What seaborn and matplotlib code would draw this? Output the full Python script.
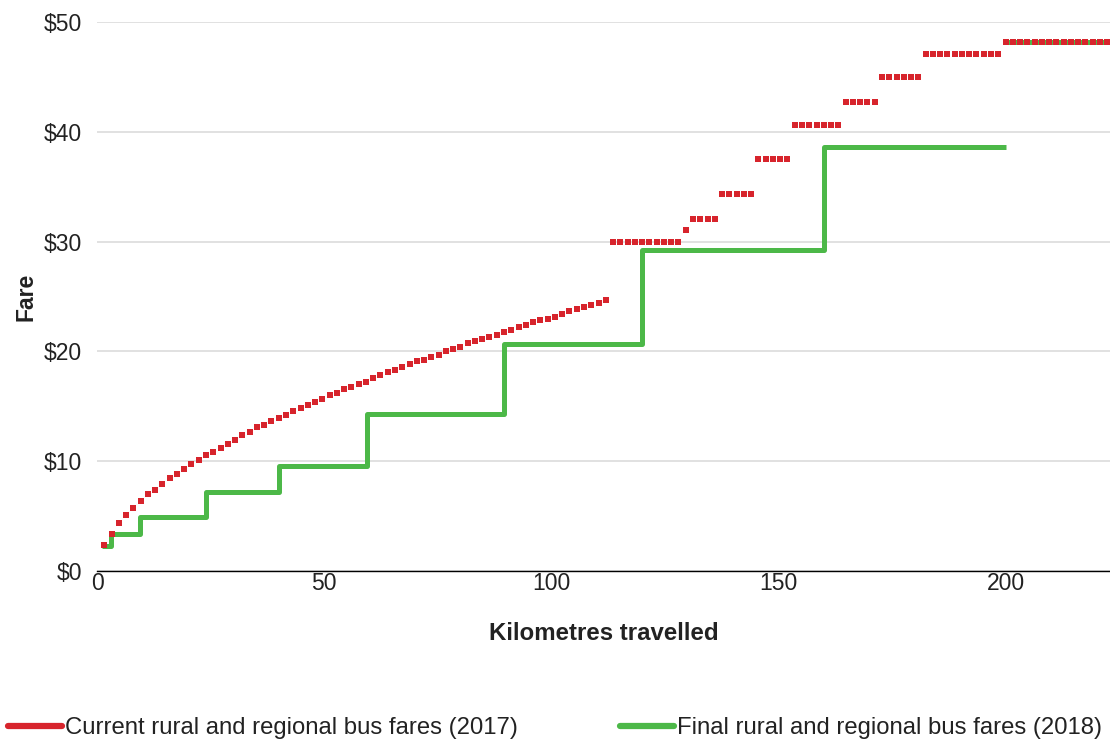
import numpy as np
import pandas as pd
import matplotlib
matplotlib.use("Agg")
import matplotlib.pyplot as plt
from matplotlib.lines import Line2D
from matplotlib import font_manager
import seaborn as sns

# --- data -------------------------------------------------------------
# 2017 fares, one value per 1.6 km (one mile) step, steps 1..139
fares_2017 = [
    2.34, 3.40, 4.37, 5.10, 5.74, 6.35, 7.00, 7.40, 7.95, 8.44,
    8.86, 9.30, 9.72, 10.14, 10.54, 10.88, 11.20, 11.60, 11.93, 12.36,
    12.66, 13.08, 13.30, 13.63, 13.93, 14.24, 14.57, 14.87, 15.09, 15.39,
    15.64, 16.03, 16.18, 16.55, 16.79, 17.06, 17.20, 17.55, 17.82, 18.12,
    18.33, 18.55, 18.88, 19.10, 19.19, 19.49, 19.70, 20.00, 20.20, 20.43,
    20.77, 20.97, 21.10, 21.28, 21.52, 21.80, 21.92, 22.22, 22.43, 22.65,
    22.86, 22.98, 23.16, 23.38, 23.68, 23.89, 24.02, 24.25, 24.45, 24.65,
    30.00, 30.00, 30.00, 30.00, 30.00, 30.00, 30.00, 30.00, 30.00, 30.00,
    31.05,
    32.10, 32.10, 32.10, 32.10,
    34.30, 34.30, 34.30, 34.30, 34.30,
    37.50, 37.50, 37.50, 37.50, 37.50,
    40.60, 40.60, 40.60, 40.60, 40.60, 40.60, 40.60,
    42.75, 42.75, 42.75, 42.75, 42.75,
    44.96, 44.96, 44.96, 44.96, 44.96, 44.96,
    47.06, 47.06, 47.06, 47.06, 47.06, 47.06, 47.06, 47.06, 47.06, 47.06, 47.06,
    48.20, 48.20, 48.20, 48.20, 48.20, 48.20, 48.20, 48.20, 48.20, 48.20,
    48.20, 48.20, 48.20, 48.20, 48.20,
]
KM_PER_STEP = 1.6

# 2018 fares: step boundaries (km) and the fare for each band
steps_2018_km = [1, 3, 9.5, 24, 40, 59.5, 89.5, 120, 160, 200]
fares_2018 = [2.3, 3.4, 4.9, 7.2, 9.6, 14.3, 20.7, 29.2, 38.6]
# flat fare beyond 200 km
long_2018_km = [200, 223]
long_2018_fare = 48.2

y_ticks = [0, 10, 20, 30, 40, 50]
y_tick_labels = ["$0", "$10", "$20", "$30", "$40", "$50"]
x_ticks = [0, 50, 100, 150, 200]

label_2017 = "Current rural and regional bus fares (2017)"
label_2018 = "Final rural and regional bus fares (2018)"

RED = "#D7242C"
GREEN = "#4CB848"
TEXT = "#222222"

# --- frames -----------------------------------------------------------
steps = np.arange(1, len(fares_2017) + 1)
df_2017 = pd.DataFrame({"km": steps * KM_PER_STEP, "fare": fares_2017})

step_fares = fares_2018 + [fares_2018[-1]]
df_2018 = pd.DataFrame({
    "km": steps_2018_km + long_2018_km,
    "fare": step_fares + [long_2018_fare, long_2018_fare],
    "band": ["short"] * len(steps_2018_km) + ["long"] * len(long_2018_km),
})

# --- style ------------------------------------------------------------
sns.set_theme(style="white")
installed = {f.name for f in font_manager.fontManager.ttflist}
base_font = "Liberation Sans" if "Liberation Sans" in installed else "DejaVu Sans"
plt.rcParams["font.family"] = [base_font, "DejaVu Sans"]

fig = plt.figure(figsize=(11.10, 7.43), dpi=100)
ax = fig.add_axes([0.0874, 0.2315, 0.9126, 0.7389])

# 2018 stepped fares
sns.lineplot(data=df_2018, x="km", y="fare", units="band", estimator=None,
             sort=False, drawstyle="steps-post", color=GREEN, linewidth=3.6,
             solid_capstyle="butt", ax=ax, legend=False, zorder=2)

# 2017 fares, one square mark per step
sns.scatterplot(data=df_2017, x="km", y="fare", marker="s", s=14,
                color=RED, linewidth=0, ax=ax, legend=False, zorder=3)

# --- axes -------------------------------------------------------------
ax.set_xlim(0, 223)
ax.set_ylim(0, 50)
ax.set_yticks(y_ticks)
ax.set_yticklabels(y_tick_labels)
ax.set_xticks(x_ticks)
ax.yaxis.grid(True, color="#D9D9D9", linewidth=1.1)
ax.set_axisbelow(True)
for side in ("left", "right", "top"):
    ax.spines[side].set_visible(False)
ax.spines["bottom"].set_color("black")
ax.spines["bottom"].set_linewidth(1.0)
ax.tick_params(axis="x", direction="out", length=4, width=1, colors="black",
               labelsize=16.5, pad=-3, labelcolor=TEXT)
ax.tick_params(axis="y", length=0, labelsize=16.5, pad=11, labelcolor=TEXT)

ax.set_xlabel("Kilometres travelled", fontsize=17.3, fontweight="bold",
              labelpad=19, color=TEXT)
ax.set_ylabel("Fare", fontsize=16.5, fontweight="bold", labelpad=4,
              color=TEXT)

handles = [Line2D([0], [0], color=RED, linewidth=4.5),
           Line2D([0], [0], color=GREEN, linewidth=4.5)]
fig.legend(handles, [label_2017, label_2018], loc="center",
           bbox_to_anchor=(0.5, 1 - 728 / 743), ncol=2, frameon=False,
           prop={"size": 17.2},
           handlelength=2.26, handletextpad=0.12, columnspacing=4.3,
           labelcolor=TEXT)

fig.savefig("out.png", dpi=100)
